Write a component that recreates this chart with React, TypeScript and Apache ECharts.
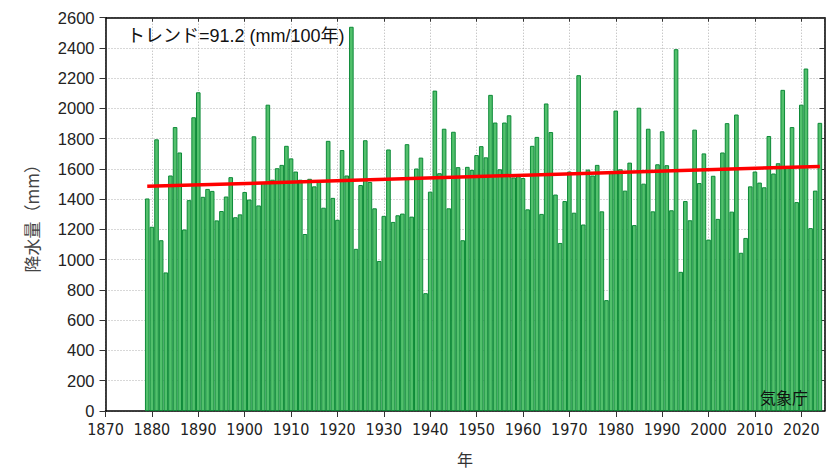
import React, { useEffect, useRef } from "react";
import * as echarts from "echarts";

const startYear = 1879;
const precipitation = [
  1405, 1218, 1796, 1129, 916, 1557, 1877, 1709, 1200, 1394, 1942, // 1879-1889
  2107, 1416, 1468, 1455, 1260, 1322, 1418, 1546, 1281, 1300, // 1890-1899
  1448, 1398, 1816, 1359, 1510, 2025, 1529, 1605, 1627, 1753, // 1900-1909
  1670, 1583, 1529, 1170, 1535, 1485, 1514, 1344, 1786, 1409, // 1910-1919
  1264, 1725, 1557, 2540, 1072, 1494, 1790, 1514, 1340, 992, // 1920-1929
  1290, 1729, 1250, 1294, 1305, 1764, 1285, 1603, 1675, 779, // 1930-1939
  1450, 2118, 1572, 1866, 1340, 1846, 1612, 1129, 1614, 1594, // 1940-1949
  1692, 1751, 1677, 2090, 1907, 1598, 1907, 1955, 1544, 1566, // 1950-1959
  1540, 1333, 1753, 1812, 1303, 2033, 1844, 1431, 1111, 1388, // 1960-1969
  1583, 1311, 2220, 1233, 1596, 1557, 1627, 1320, 733, 1580, // 1970-1979
  1986, 1598, 1457, 1642, 1229, 2005, 1503, 1866, 1320, 1631, // 1980-1989
  1849, 1625, 1327, 2392, 920, 1388, 1261, 1860, 1507, 1703, // 1990-1999
  1133, 1555, 1270, 1709, 1903, 1318, 1960, 1046, 1144, 1485, // 2000-2009
  1583, 1510, 1479, 1818, 1570, 1638, 2123, 1610, 1877, 1381, // 2010-2019
  2025, 2264, 1209, 1457, 1905, // 2020-2024
];
const trendYears = [1879, 2024];
const trendValues = [1485, 1617];
const trendLabel = "トレンド=91.2 (mm/100年)";
const sourceLabel = "気象庁";
const yAxisTitle = "降水量（mm）";
const xAxisTitle = "年";

const barData = precipitation.map((v, i) => [startYear + i, v]);
const trendData = trendYears.map((y, i) => [y, trendValues[i]]);

const gridColor = "#b0b0b0";
const jpFont = "'Liberation Sans', 'Noto Sans CJK JP', sans-serif";
const plain = (v: number) => String(v);

export default function App() {
  const ref = useRef<HTMLDivElement>(null);
  useEffect(() => {
    if (!ref.current) return;
    const chart = echarts.init(ref.current, null, { renderer: "svg" });
    chart.setOption({
      animation: false,
      backgroundColor: "#ffffff",
      grid: { left: 105.5, right: 5.5, top: 17.7, bottom: 55.7, containLabel: false },
      xAxis: [
        {
          type: "value",
          position: "bottom",
          min: 1870,
          max: 2025,
          interval: 10,
          name: xAxisTitle,
          nameLocation: "middle",
          nameGap: 40,
          nameTextStyle: { fontSize: 16, color: "#333", fontFamily: "'Noto Sans CJK JP', sans-serif" },
          axisLine: { show: true, onZero: false, lineStyle: { color: "#000", width: 1.5 } },
          axisTick: { show: true, inside: false, length: 6, lineStyle: { color: "#333", width: 1 } },
          axisLabel: {
            formatter: plain,
            showMaxLabel: false,
            fontSize: 16,
            margin: 10,
            color: "#222",
            fontFamily: "'Liberation Sans Narrow', 'DejaVu Sans Condensed', 'Liberation Sans', sans-serif",
          },
          splitLine: { show: true, lineStyle: { color: gridColor, type: [1, 2], width: 1 } },
        },
        {
          type: "value",
          position: "top",
          min: 1870,
          max: 2025,
          interval: 10,
          axisLine: { show: true, onZero: false, lineStyle: { color: "#000", width: 1.5 } },
          axisTick: { show: true, inside: true, length: 4, lineStyle: { color: "#333" } },
          axisLabel: { show: false },
          splitLine: { show: false },
        },
      ],
      yAxis: [
        {
          type: "value",
          position: "left",
          min: 0,
          max: 2600,
          interval: 200,
          name: yAxisTitle,
          nameLocation: "middle",
          nameGap: 66,
          nameRotate: 90,
          nameTextStyle: { fontSize: 17, color: "#444", fontFamily: "'Noto Sans CJK JP', sans-serif" },
          axisLine: { show: true, onZero: false, lineStyle: { color: "#000", width: 1.5 } },
          axisTick: { show: true, inside: false, length: 6, lineStyle: { color: "#333", width: 1 } },
          axisLabel: {
            formatter: plain,
            fontSize: 16.5,
            margin: 11,
            color: "#222",
            fontFamily: "'Liberation Sans', Arial, sans-serif",
          },
          splitLine: { show: true, lineStyle: { color: gridColor, type: [1, 2], width: 1 } },
        },
        {
          type: "value",
          position: "right",
          min: 0,
          max: 2600,
          interval: 200,
          axisLine: { show: true, onZero: false, lineStyle: { color: "#000", width: 1.5 } },
          axisTick: { show: true, inside: true, length: 5, lineStyle: { color: "#333" } },
          axisLabel: { show: false },
          splitLine: { show: false },
        },
      ],
      series: [
        {
          type: "bar",
          xAxisIndex: 0,
          yAxisIndex: 0,
          data: barData,
          barWidth: 4.6,
          itemStyle: { color: "#52c06c", borderColor: "#0d8a38", borderWidth: 1 },
          emphasis: { disabled: true },
        },
        {
          type: "line",
          xAxisIndex: 0,
          yAxisIndex: 0,
          data: trendData,
          symbol: "none",
          lineStyle: { color: "#ff0000", width: 3.5 },
          z: 5,
        },
      ],
      graphic: [
        {
          type: "text",
          left: 127,
          top: 27,
          style: { text: trendLabel, fontSize: 18, fill: "#111", fontFamily: jpFont },
          z: 10,
        },
        {
          type: "text",
          left: 760,
          top: 389,
          style: { text: sourceLabel, fontSize: 16, fill: "#111", fontFamily: "'Noto Sans CJK JP', sans-serif" },
          z: 10,
        },
      ],
    });
    return () => chart.dispose();
  }, []);
  return (
    <div
      ref={ref}
      style={{ position: "absolute", left: 0, top: 0, width: 830, height: 472 }}
    />
  );
}
